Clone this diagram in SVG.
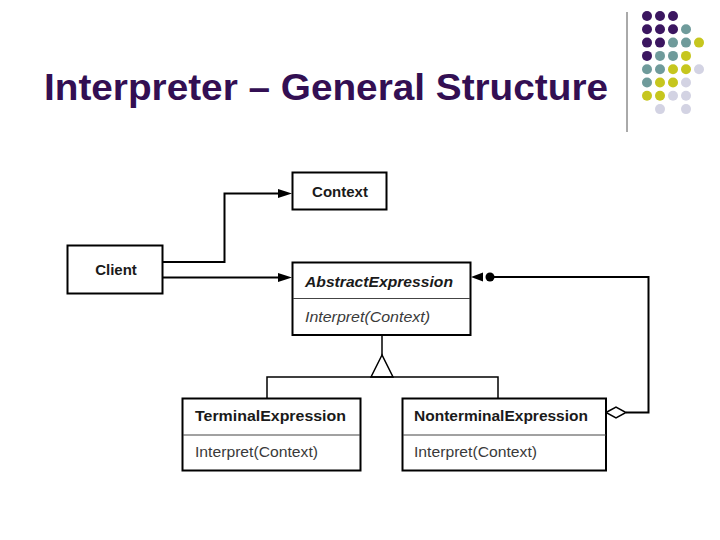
<svg xmlns="http://www.w3.org/2000/svg" width="720" height="540" viewBox="0 0 720 540">
<style>
.box{fill:#fff;stroke:#000;stroke-width:2}
.div{stroke:#444;stroke-width:1}
.t{font-family:"Liberation Sans",Arial,sans-serif;font-size:15px;fill:#1a1a1a}
.b{font-weight:bold}
.i{font-style:italic}
.r{fill:#3a3a3a}
.ln{fill:none;stroke:#000;stroke-width:2}
.gen{fill:none;stroke:#000;stroke-width:1.5}
.ah{fill:#000}
.p{fill:#3b1660}.g{fill:#6f9b9b}.y{fill:#c6c61e}.l{fill:#d3d3e3}
</style>
<rect width="720" height="540" fill="#fff"/>
<g id="title">
<text x="44" y="100" font-family="Liberation Sans,Arial,sans-serif" font-size="36" font-weight="bold" fill="#330f53" textLength="564" lengthAdjust="spacingAndGlyphs">Interpreter – General Structure</text>
</g>
<g id="decor">
<line x1="627" y1="12" x2="627" y2="132" stroke="#555" stroke-width="1"/>
<circle class="p" cx="647" cy="16" r="5"/><circle class="p" cx="660" cy="16" r="5"/><circle class="p" cx="673" cy="16" r="5"/>
<circle class="p" cx="647" cy="29.3" r="5"/><circle class="p" cx="660" cy="29.3" r="5"/><circle class="p" cx="673" cy="29.3" r="5"/><circle class="g" cx="686" cy="29.3" r="5"/>
<circle class="p" cx="647" cy="42.6" r="5"/><circle class="p" cx="660" cy="42.6" r="5"/><circle class="g" cx="673" cy="42.6" r="5"/><circle class="g" cx="686" cy="42.6" r="5"/><circle class="y" cx="699" cy="42.6" r="5"/>
<circle class="p" cx="647" cy="55.9" r="5"/><circle class="g" cx="660" cy="55.9" r="5"/><circle class="g" cx="673" cy="55.9" r="5"/><circle class="y" cx="686" cy="55.9" r="5"/>
<circle class="g" cx="647" cy="69.2" r="5"/><circle class="g" cx="660" cy="69.2" r="5"/><circle class="y" cx="673" cy="69.2" r="5"/><circle class="y" cx="686" cy="69.2" r="5"/><circle class="l" cx="699" cy="69.2" r="5"/>
<circle class="g" cx="647" cy="82.5" r="5"/><circle class="y" cx="660" cy="82.5" r="5"/><circle class="y" cx="673" cy="82.5" r="5"/><circle class="l" cx="686" cy="82.5" r="5"/>
<circle class="y" cx="647" cy="95.8" r="5"/><circle class="y" cx="660" cy="95.8" r="5"/><circle class="l" cx="673" cy="95.8" r="5"/><circle class="l" cx="686" cy="95.8" r="5"/>
<circle class="l" cx="660" cy="109.1" r="5"/><circle class="l" cx="686" cy="109.1" r="5"/>
</g>
<g id="connectors">
<polyline class="ln" points="162,262 224.5,262 224.5,193.5 280,193.5"/>
<polygon class="ah" points="278,189 292,193.5 278,198"/>
<line class="ln" x1="162" y1="277.5" x2="280" y2="277.5"/>
<polygon class="ah" points="278,273 292,277.5 278,282"/>
<polyline class="ln" points="626,412.5 648.5,412.5 648.5,277 490,277"/>
<circle class="ah" cx="490" cy="277" r="4.5"/>
<polygon class="ah" points="483,272.5 471,277 483,281.5"/>
<polygon points="606,412.5 616,407 626,412.5 616,418" fill="#fff" stroke="#000" stroke-width="1.5"/>
<line class="gen" x1="382" y1="335" x2="382" y2="355"/>
<polygon class="gen" points="382,355 371,377 393,377" fill="#fff"/>
<polyline class="gen" points="267,398 267,377 498,377 498,398"/>
</g>
<g id="context">
<rect class="box" x="292.5" y="172.5" width="94" height="37"/>
<text class="t b" x="340" y="197" text-anchor="middle">Context</text>
</g>
<g id="client">
<rect class="box" x="67.5" y="245.5" width="95" height="48"/>
<text class="t b" x="116" y="275" text-anchor="middle">Client</text>
</g>
<g id="abstract-expression">
<rect class="box" x="292.5" y="262.5" width="178" height="72.5"/>
<line class="div" x1="293" y1="298.5" x2="470" y2="298.5"/>
<text class="t b i" x="305" y="287" textLength="148" lengthAdjust="spacingAndGlyphs">AbstractExpression</text>
<text class="t i r" x="305" y="322" textLength="125" lengthAdjust="spacingAndGlyphs">Interpret(Context)</text>
</g>
<g id="terminal-expression">
<rect class="box" x="182.5" y="398.5" width="178" height="72"/>
<line class="div" x1="183" y1="435" x2="360" y2="435"/>
<text class="t b" x="195" y="421" textLength="151" lengthAdjust="spacingAndGlyphs">TerminalExpression</text>
<text class="t r" x="195" y="457" textLength="123" lengthAdjust="spacingAndGlyphs">Interpret(Context)</text>
</g>
<g id="nonterminal-expression">
<rect class="box" x="402.5" y="398.5" width="203.5" height="72"/>
<line class="div" x1="403" y1="435" x2="606" y2="435"/>
<text class="t b" x="414" y="421" textLength="174" lengthAdjust="spacingAndGlyphs">NonterminalExpression</text>
<text class="t r" x="414" y="457" textLength="123" lengthAdjust="spacingAndGlyphs">Interpret(Context)</text>
</g>
</svg>
